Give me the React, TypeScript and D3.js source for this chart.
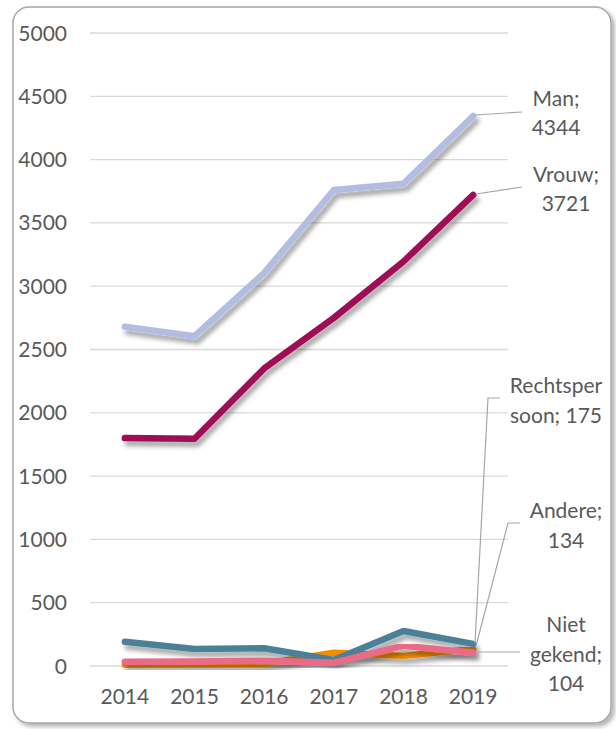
import React from "react";
import * as d3 from "d3";

const years = ["2014", "2015", "2016", "2017", "2018", "2019"];
const man = [2680, 2605, 3105, 3760, 3810, 4344];
const vrouw = [1800, 1795, 2350, 2750, 3195, 3721];
const rechtspersoon = [192, 134, 140, 47, 276, 175];
const andere = [12, 14, 18, 105, 80, 134];
const nietGekend = [34, 36, 42, 26, 160, 104];
const yTicks = [0, 500, 1000, 1500, 2000, 2500, 3000, 3500, 4000, 4500, 5000];

const W = 616;
const H = 729;
const FONT = "Lato, 'Open Sans', sans-serif";
const TXT = "#595959";

type S = { name: string; values: number[]; color: string; label: string[]; lx: number; ly: number; leader: [number, number][] };

export default function App() {
  const x = d3.scalePoint<string>().domain(years).range([90, 508]).padding(0.5);
  const y = d3.scaleLinear().domain([0, 5000]).range([666, 33]);
  const line = d3
    .line<number>()
    .x((_, i) => x(years[i]) as number)
    .y((d) => y(d));

  const series: S[] = [
    { name: "Man", values: man, color: "#b3bde2", label: ["Man;", "4344"], lx: 556, ly: 105.5, leader: [[475, 115], [522, 112]] },
    { name: "Vrouw", values: vrouw, color: "#9e0a55", label: ["Vrouw;", "3721"], lx: 566, ly: 181.5, leader: [[476, 194], [522, 187]] },
    { name: "Andere", values: andere, color: "#f28e00", label: ["Andere;", "134"], lx: 566, ly: 518, leader: [[476, 646], [508, 523], [520, 523]] },
    { name: "Rechtspersoon", values: rechtspersoon, color: "#4b8198", label: ["Rechtsper", "soon; 175"], lx: 556, ly: 393, leader: [[475, 643], [488, 398], [500, 398]] },
    { name: "Niet gekend", values: nietGekend, color: "#ea6b87", label: ["Niet", "gekend;", "104"], lx: 566, ly: 632, leader: [[478, 652], [520, 652]] },
  ];

  return (
    <svg width={W} height={H} style={{ position: "absolute", left: 0, top: 0 }} fontFamily={FONT}>
      <defs>
        <filter id="ls" x="-10%" y="-10%" width="130%" height="140%">
          <feDropShadow dx="3" dy="5" stdDeviation="2.2" floodColor="#000" floodOpacity="0.33" />
        </filter>
        <filter id="bs" x="-5%" y="-5%" width="115%" height="115%">
          <feDropShadow dx="3" dy="3" stdDeviation="2" floodColor="#000" floodOpacity="0.3" />
        </filter>
      </defs>
      <rect x={0} y={0} width={W} height={H} fill="#fff" />
      <rect x={13} y={7} width={598} height={716} rx={16} ry={16} fill="#fff" stroke="#a6a6a6" strokeWidth={1.5} filter="url(#bs)" />
      {yTicks.map((t) => (
        <g key={t}>
          <line x1={90} x2={508} y1={y(t)} y2={y(t)} stroke="#d9d9d9" strokeWidth={1.3} />
          <text x={67} y={y(t)} dy="0.36em" textAnchor="end" fontSize={21} fill={TXT}>
            {t}
          </text>
        </g>
      ))}
      {years.map((yr) => (
        <text key={yr} x={x(yr) as number} y={704} textAnchor="middle" fontSize={21} fill={TXT}>
          {yr}
        </text>
      ))}
      {series.map((s) => (
        <path key={s.name} d={line(s.values) as string} fill="none" stroke={s.color} strokeWidth={6.5} strokeLinecap="round" strokeLinejoin="round" filter="url(#ls)" />
      ))}
      {series.map((s) => (
        <g key={s.name + "-lbl"}>
          <polyline points={s.leader.map((p) => p.join(",")).join(" ")} fill="none" stroke="#a6a6a6" strokeWidth={1.2} />
          {s.label.map((l, i) => (
            <text key={i} x={s.lx} y={s.ly + i * 29.5} textAnchor="middle" fontSize={21} fill={TXT}>
              {l}
            </text>
          ))}
        </g>
      ))}
    </svg>
  );
}
